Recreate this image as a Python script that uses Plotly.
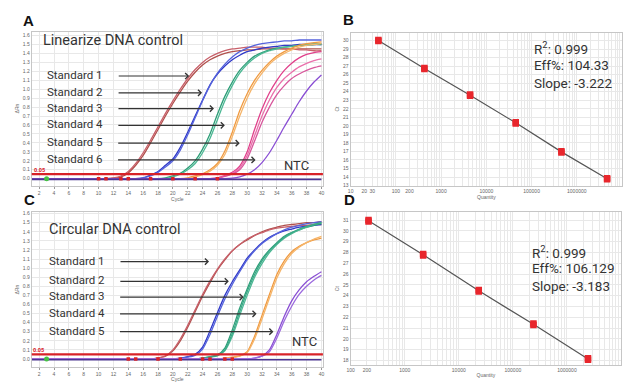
import plotly.graph_objects as go

W, H = 626, 382

# ---------------- data ----------------
CYCLES = list(range(1, 41))
THRESHOLD = 0.05

# Panel A: linearized DNA control, amplification curves (ΔRn per cycle)
A_STD1_R1 = [0, 0, 0, 0, 0, 0, 0, 0, 0, 0,
             0, 0.005, 0.02, 0.065, 0.15, 0.26, 0.40, 0.55, 0.70, 0.84,
             0.97, 1.09, 1.19, 1.27, 1.33, 1.37, 1.40, 1.42, 1.43, 1.44,
             1.44, 1.45, 1.45, 1.45, 1.45, 1.45, 1.45, 1.45, 1.45, 1.45]
A_STD1_R2 = [0, 0, 0, 0, 0, 0, 0, 0, 0, 0,
             0, 0.008, 0.03, 0.08, 0.17, 0.29, 0.43, 0.58, 0.73, 0.87,
             1.00, 1.12, 1.22, 1.30, 1.36, 1.40, 1.43, 1.45, 1.46, 1.47,
             1.47, 1.47, 1.46, 1.46, 1.45, 1.45, 1.44, 1.44, 1.43, 1.43]
A_STD2_R1 = [0, 0, 0, 0, 0, 0, 0, 0, 0, 0,
             0, 0, 0, 0, 0, 0.01, 0.04, 0.08, 0.15, 0.22,
             0.35, 0.52, 0.70, 0.88, 1.05, 1.17, 1.26, 1.33, 1.38, 1.42,
             1.44, 1.46, 1.47, 1.48, 1.49, 1.49, 1.50, 1.50, 1.50, 1.50]
A_STD2_R2 = [0, 0, 0, 0, 0, 0, 0, 0, 0, 0,
             0, 0, 0, 0, 0, 0.008, 0.03, 0.07, 0.13, 0.20,
             0.32, 0.49, 0.68, 0.87, 1.04, 1.18, 1.28, 1.36, 1.42, 1.46,
             1.49, 1.51, 1.52, 1.53, 1.54, 1.54, 1.55, 1.55, 1.55, 1.55]
A_STD3_R1 = [0, 0, 0, 0, 0, 0, 0, 0, 0, 0,
             0, 0, 0, 0, 0, 0, 0, 0, 0.01, 0.03,
             0.06, 0.12, 0.20, 0.33, 0.50, 0.72, 0.92, 1.08, 1.21, 1.30,
             1.37, 1.41, 1.44, 1.46, 1.47, 1.48, 1.49, 1.49, 1.50, 1.50]
A_STD3_R2 = [0, 0, 0, 0, 0, 0, 0, 0, 0, 0,
             0, 0, 0, 0, 0, 0, 0, 0, 0, 0.02,
             0.05, 0.10, 0.17, 0.29, 0.45, 0.66, 0.87, 1.04, 1.18, 1.28,
             1.35, 1.40, 1.43, 1.45, 1.47, 1.48, 1.49, 1.50, 1.51, 1.51]
A_STD4_R1 = [0, 0, 0, 0, 0, 0, 0, 0, 0, 0,
             0, 0, 0, 0, 0, 0, 0, 0, 0, 0,
             0, 0.01, 0.03, 0.055, 0.10, 0.17, 0.31, 0.52, 0.76, 0.95,
             1.10, 1.21, 1.30, 1.37, 1.42, 1.46, 1.49, 1.51, 1.52, 1.53]
A_STD4_R2 = [0, 0, 0, 0, 0, 0, 0, 0, 0, 0,
             0, 0, 0, 0, 0, 0, 0, 0, 0, 0,
             0, 0, 0.02, 0.045, 0.085, 0.15, 0.27, 0.47, 0.70, 0.90,
             1.06, 1.18, 1.28, 1.35, 1.40, 1.44, 1.47, 1.49, 1.50, 1.51]
A_STD5_R1 = [0, 0, 0, 0, 0, 0, 0, 0, 0, 0,
             0, 0, 0, 0, 0, 0, 0, 0, 0, 0,
             0, 0, 0, 0, 0, 0.01, 0.035, 0.07, 0.14, 0.30,
             0.55, 0.78, 0.96, 1.10, 1.21, 1.29, 1.35, 1.39, 1.41, 1.42]
A_STD5_R2 = [0, 0, 0, 0, 0, 0, 0, 0, 0, 0,
             0, 0, 0, 0, 0, 0, 0, 0, 0, 0,
             0, 0, 0, 0, 0, 0.008, 0.03, 0.06, 0.12, 0.26,
             0.48, 0.70, 0.88, 1.02, 1.12, 1.19, 1.25, 1.29, 1.32, 1.34]
A_STD5_R3 = [0, 0, 0, 0, 0, 0, 0, 0, 0, 0,
             0, 0, 0, 0, 0, 0, 0, 0, 0, 0,
             0, 0, 0, 0, 0, 0.005, 0.025, 0.05, 0.10, 0.22,
             0.42, 0.63, 0.80, 0.94, 1.04, 1.12, 1.17, 1.21, 1.24, 1.26]
A_STD6_R1 = [0, 0, 0, 0, 0, 0, 0, 0, 0, 0,
             0, 0, 0, 0, 0, 0, 0, 0, 0, 0,
             0, 0, 0, 0, 0, 0, 0, 0.005, 0.02, 0.05,
             0.10, 0.18, 0.29, 0.43, 0.58, 0.72, 0.86, 0.98, 1.08, 1.16]
A_NTC = [-0.008] * 40
A_BASE_START = [3]
A_BASE_END = [10, 11, 13, 14, 17, 20, 23, 26]

# Panel C: circular DNA control
C_STD1_R1 = [0, 0, 0, 0, 0, 0, 0, 0, 0, 0,
             0, 0, 0, 0, 0, 0, 0, 0.01, 0.03, 0.09,
             0.20, 0.35, 0.52, 0.69, 0.84, 0.98, 1.09, 1.19, 1.26, 1.31,
             1.36, 1.40, 1.43, 1.45, 1.47, 1.48, 1.49, 1.50, 1.50, 1.51]
C_STD1_R2 = [0, 0, 0, 0, 0, 0, 0, 0, 0, 0,
             0, 0, 0, 0, 0, 0, 0, 0.012, 0.035, 0.10,
             0.22, 0.37, 0.54, 0.71, 0.86, 0.99, 1.10, 1.19, 1.26, 1.32,
             1.36, 1.39, 1.42, 1.44, 1.45, 1.46, 1.47, 1.47, 1.48, 1.48]
C_STD2_R1 = [0, 0, 0, 0, 0, 0, 0, 0, 0, 0,
             0, 0, 0, 0, 0, 0, 0, 0, 0, 0,
             0.01, 0.025, 0.05, 0.13, 0.31, 0.51, 0.70, 0.85, 0.98, 1.11,
             1.20, 1.28, 1.34, 1.38, 1.41, 1.43, 1.45, 1.46, 1.47, 1.48]
C_STD2_R2 = [0, 0, 0, 0, 0, 0, 0, 0, 0, 0,
             0, 0, 0, 0, 0, 0, 0, 0, 0, 0,
             0.005, 0.02, 0.04, 0.11, 0.27, 0.47, 0.66, 0.82, 0.96, 1.09,
             1.19, 1.27, 1.33, 1.38, 1.42, 1.45, 1.47, 1.49, 1.50, 1.51]
C_STD3_R1 = [0, 0, 0, 0, 0, 0, 0, 0, 0, 0,
             0, 0, 0, 0, 0, 0, 0, 0, 0, 0,
             0, 0, 0, 0.01, 0.025, 0.045, 0.12, 0.32, 0.56, 0.77,
             0.96, 1.10, 1.20, 1.28, 1.35, 1.39, 1.42, 1.45, 1.47, 1.49]
C_STD3_R2 = [0, 0, 0, 0, 0, 0, 0, 0, 0, 0,
             0, 0, 0, 0, 0, 0, 0, 0, 0, 0,
             0, 0, 0, 0.005, 0.02, 0.035, 0.09, 0.25, 0.48, 0.70,
             0.90, 1.05, 1.17, 1.26, 1.33, 1.38, 1.42, 1.45, 1.48, 1.50]
C_STD3_R3 = [0, 0, 0, 0, 0, 0, 0, 0, 0, 0,
             0, 0, 0, 0, 0, 0, 0, 0, 0, 0,
             0, 0, 0, 0.008, 0.022, 0.04, 0.10, 0.28, 0.52, 0.74,
             0.93, 1.08, 1.19, 1.27, 1.34, 1.39, 1.43, 1.46, 1.48, 1.50]
C_STD4_R1 = [0, 0, 0, 0, 0, 0, 0, 0, 0, 0,
             0, 0, 0, 0, 0, 0, 0, 0, 0, 0,
             0, 0, 0, 0, 0, 0, 0.01, 0.02, 0.035, 0.08,
             0.25, 0.48, 0.71, 0.93, 1.08, 1.18, 1.24, 1.28, 1.31, 1.33]
C_STD4_R2 = [0, 0, 0, 0, 0, 0, 0, 0, 0, 0,
             0, 0, 0, 0, 0, 0, 0, 0, 0, 0,
             0, 0, 0, 0, 0, 0, 0.005, 0.015, 0.03, 0.07,
             0.22, 0.44, 0.67, 0.89, 1.05, 1.16, 1.23, 1.28, 1.32, 1.35]
C_STD5_R1 = [0, 0, 0, 0, 0, 0, 0, 0, 0, 0,
             0, 0, 0, 0, 0, 0, 0, 0, 0, 0,
             0, 0, 0, 0, 0, 0, 0, 0, 0, 0,
             0.01, 0.035, 0.10, 0.27, 0.47, 0.64, 0.76, 0.85, 0.91, 0.96]
C_STD5_R2 = [0, 0, 0, 0, 0, 0, 0, 0, 0, 0,
             0, 0, 0, 0, 0, 0, 0, 0, 0, 0,
             0, 0, 0, 0, 0, 0, 0, 0, 0, 0,
             0.008, 0.03, 0.08, 0.23, 0.42, 0.58, 0.71, 0.80, 0.87, 0.92]
C_NTC = [-0.008] * 40
C_BASE_START = [3]
C_BASE_END = [14, 15, 18, 21, 24, 25, 27, 28]

# Panel B: standard curve (linearized)
B_QTY = [41, 427, 4370, 44700, 457000, 4680000]
B_CT_R1 = [29.93, 26.65, 23.52, 20.28, 16.88, 13.73]
B_CT_R2 = [30.07, 26.79, 23.66, 20.42, 17.02, 13.87]
B_CT_MEAN = [30.00, 26.72, 23.59, 20.35, 16.95, 13.80]

# Panel D: standard curve (circular)
D_QTY = [214, 2190, 23400, 240000, 2450000]
D_CT_R1 = [30.86, 27.73, 24.38, 21.28, 18.08]
D_CT_R2 = [31.00, 27.87, 24.52, 21.42, 18.22]
D_CT_MEAN = [30.93, 27.80, 24.45, 21.35, 18.15]

A_STANDARDS = ["Standard 1", "Standard 2", "Standard 3", "Standard 4", "Standard 5", "Standard 6"]
C_STANDARDS = ["Standard 1", "Standard 2", "Standard 3", "Standard 4", "Standard 5"]

CYCLE_TICKS = [2, 4, 6, 8, 10, 12, 14, 16, 18, 20, 22, 24, 26, 28, 30, 32, 34, 36, 38, 40]
DRN_TICKS = [0.0, 0.1, 0.2, 0.3, 0.4, 0.5, 0.6, 0.7, 0.8, 0.9, 1.0, 1.1, 1.2, 1.3, 1.4, 1.5, 1.6]
B_QTY_LABELS = [10, 20, 30, 100, 200, 1000, 10000, 100000, 1000000, 10000000]
D_QTY_LABELS = [100, 200, 1000, 10000, 100000, 1000000, 10000000]
B_CT_TICKS = list(range(13, 31))
D_CT_TICKS = list(range(18, 32))

# ---------------- styling ----------------
BROWN, ROSE = "#b0504c", "#c8606a"
BLUE, BLUE2 = "#3039c8", "#5563dc"
GREEN, GREEN2, GREEN3 = "#2e9e78", "#4cb894", "#3aa987"
ORANGE, ORANGE2 = "#f09a40", "#f5b56a"
PINK, PINK2, PINK3 = "#e0418b", "#ea70ab", "#d8579c"
PURPLE, PURPLE2 = "#8a4fd4", "#9c6ade"
NTC_COL = "#4a3590"
RED = "#d82228"
TXT = "#333333"
GRID = "#e8e8e8"
FRAME = "#c6c6c6"
TICKFONT = dict(family="Liberation Sans", size=5, color="#666666")
TEXTFONT = "Roboto"

fig = go.Figure()


def add_curve(vals, color, xa, ya, width=1.3):
    fig.add_trace(go.Scatter(
        x=CYCLES, y=vals, mode="lines", xaxis=xa, yaxis=ya,
        line=dict(color=color, width=width, shape="spline", smoothing=0.6),
        showlegend=False, hoverinfo="skip"))


for vals, col in [(A_STD1_R1, BROWN), (A_STD1_R2, ROSE), (A_STD2_R1, BLUE), (A_STD2_R2, BLUE2),
                  (A_STD3_R1, GREEN), (A_STD3_R2, GREEN2), (A_STD4_R1, ORANGE), (A_STD4_R2, ORANGE2),
                  (A_STD5_R1, PINK), (A_STD5_R2, PINK2), (A_STD5_R3, PINK3), (A_STD6_R1, PURPLE)]:
    add_curve(vals, col, "x", "y")
add_curve(A_NTC, NTC_COL, "x", "y", 1.6)

for vals, col in [(C_STD1_R1, BROWN), (C_STD1_R2, ROSE), (C_STD2_R1, BLUE), (C_STD2_R2, BLUE2),
                  (C_STD3_R1, GREEN), (C_STD3_R2, GREEN2), (C_STD3_R3, GREEN3),
                  (C_STD4_R1, ORANGE), (C_STD4_R2, ORANGE2), (C_STD5_R1, PURPLE), (C_STD5_R2, PURPLE2)]:
    add_curve(vals, col, "x3", "y3")
add_curve(C_NTC, NTC_COL, "x3", "y3", 1.6)

# baseline markers
for xa, ya, ends, starts in [("x", "y", A_BASE_END, A_BASE_START), ("x3", "y3", C_BASE_END, C_BASE_START)]:
    fig.add_trace(go.Scatter(x=ends, y=[0] * len(ends), mode="markers", xaxis=xa, yaxis=ya,
                             marker=dict(symbol="square", size=3.5, color=RED),
                             showlegend=False, hoverinfo="skip"))
    fig.add_trace(go.Scatter(x=starts, y=[0] * len(starts), mode="markers", xaxis=xa, yaxis=ya,
                             marker=dict(symbol="circle", size=5, color="#46c046"),
                             showlegend=False, hoverinfo="skip"))

# threshold lines
for xa, ya in [("x", "y"), ("x3", "y3")]:
    fig.add_shape(type="line", xref=f"{xa} domain", x0=0, x1=1, yref=ya,
                  y0=THRESHOLD, y1=THRESHOLD, line=dict(color=RED, width=2.2))

# standard curves B and D
for xa, ya, q, m, r1, r2 in [("x2", "y2", B_QTY, B_CT_MEAN, B_CT_R1, B_CT_R2),
                             ("x4", "y4", D_QTY, D_CT_MEAN, D_CT_R1, D_CT_R2)]:
    fig.add_trace(go.Scatter(x=q, y=m, mode="lines", xaxis=xa, yaxis=ya,
                             line=dict(color="#555555", width=1.2), showlegend=False, hoverinfo="skip"))
    for r in (r1, r2):
        fig.add_trace(go.Scatter(x=q, y=r, mode="markers", xaxis=xa, yaxis=ya,
                                 marker=dict(symbol="square", size=6.5, color="#e8262c"),
                                 showlegend=False, hoverinfo="skip"))


def dom_x(a, b):
    return [a / W, b / W]


def dom_y(top, bottom):
    return [1 - bottom / H, 1 - top / H]


def cyc_axis(domain, anchor):
    return dict(domain=domain, anchor=anchor, range=[1, 40.2], tickmode="array",
                tickvals=CYCLE_TICKS, ticktext=[str(t) for t in CYCLE_TICKS],
                tickfont=TICKFONT, showgrid=True, gridcolor=GRID, gridwidth=1,
                showline=True, mirror=True, linecolor=FRAME, linewidth=1,
                ticks="outside", ticklen=2, tickcolor="#999999", zeroline=False,
                title=dict(text="Cycle", font=TICKFONT, standoff=1))


def drn_axis(domain, anchor, rng):
    return dict(domain=domain, anchor=anchor, range=rng, tickmode="array",
                tickvals=DRN_TICKS, ticktext=[f"{t:.1f}" for t in DRN_TICKS],
                tickfont=TICKFONT, showgrid=True, gridcolor=GRID,
                showline=True, mirror=True, linecolor=FRAME, linewidth=1,
                ticks="", zeroline=False,
                title=dict(text="ΔRn", font=TICKFONT, standoff=3))


def qty_axis(domain, anchor, rng, labels):
    lo, hi = int(rng[0]), int(rng[1])
    grid_vals = [m * 10 ** e for e in range(lo, hi) for m in range(1, 10)] + [10 ** hi]
    grid_text = [str(v) if v in labels else "" for v in grid_vals]
    return dict(domain=domain, anchor=anchor, type="log", range=rng, tickmode="array",
                tickvals=grid_vals, ticktext=grid_text, tickfont=TICKFONT,
                showgrid=True, gridcolor=GRID, showline=True, mirror=True,
                linecolor=FRAME, linewidth=1, ticks="", zeroline=False,
                title=dict(text="Quantity", font=TICKFONT, standoff=1))


def ct_axis(domain, anchor, rng, ticks):
    return dict(domain=domain, anchor=anchor, range=rng, tickmode="array",
                tickvals=ticks, ticktext=[str(t) for t in ticks], tickfont=TICKFONT,
                showgrid=True, gridcolor=GRID, showline=True, mirror=True,
                linecolor=FRAME, linewidth=1, ticks="", zeroline=False,
                title=dict(text="Ct", font=TICKFONT, standoff=3))


fig.update_layout(
    width=W, height=H, margin=dict(l=0, r=0, t=0, b=0),
    paper_bgcolor="white", plot_bgcolor="white", showlegend=False,
    xaxis=cyc_axis(dom_x(28, 322), "y"),
    yaxis=drn_axis(dom_y(30, 186), "x", [-0.077, 1.644]),
    xaxis2=qty_axis(dom_x(350, 624), "y2", [1, 7], B_QTY_LABELS),
    yaxis2=ct_axis(dom_y(31, 186), "x2", [13.0, 30.93], B_CT_TICKS),
    xaxis3=cyc_axis(dom_x(28, 322), "y3"),
    yaxis3=drn_axis(dom_y(213, 370), "x3", [-0.09, 1.615]),
    xaxis4=qty_axis(dom_x(350, 623), "y4", [2, 7], D_QTY_LABELS),
    yaxis4=ct_axis(dom_y(213, 368), "x4", [17.57, 31.73], D_CT_TICKS),
)

ann = []


def text(px, py, s, size, color=TXT, anchor="left", family=TEXTFONT):
    ann.append(dict(x=px / W, y=1 - py / H, xref="paper", yref="paper", text=s,
                    showarrow=False, xanchor=anchor, yanchor="middle",
                    font=dict(family=family, size=size, color=color)))


def arrow(x0, x1, py):
    ann.append(dict(x=x1 / W, y=1 - py / H, xref="paper", yref="paper", text="",
                    showarrow=True, ax=x0 - x1, ay=0, axref="pixel", ayref="pixel",
                    arrowhead=4, arrowsize=1, arrowwidth=1.2, arrowcolor="#333333", standoff=0))


# panel letters
for px, py, s in [(25, 19, "A"), (348, 18, "B"), (26, 200, "C"), (349, 200, "D")]:
    text(px, py, f"<b>{s}</b>", 15, "#111111", "center", "Liberation Sans")

# panel A
text(37, 39, "Linearize DNA control", 14.5)
A_LABEL_Y = [74, 91, 107, 124, 142, 159]
A_ARROW_END = [187, 200, 212, 223, 238, 254]
for lab, py, xe in zip(A_STANDARDS, A_LABEL_Y, A_ARROW_END):
    text(41, py, lab, 11.5)
    arrow(115, xe, py + 1)
text(295, 166, "NTC", 13, anchor="center")
text(28, 170, "<b>0.05</b>", 5.5, RED)

# panel C
text(43, 231, "Circular DNA control", 14.5)
C_LABEL_Y = [262, 282, 298, 315, 333]
C_ARROW_END = [207, 227, 242, 255, 272]
for lab, py, xe in zip(C_STANDARDS, C_LABEL_Y, C_ARROW_END):
    text(43, py, lab, 11.5)
    arrow(117, xe, py + 1)
text(303, 344, "NTC", 13, anchor="center")
text(27, 353, "<b>0.05</b>", 5.5, RED)

# panel B / D stats
for py, s in [(47, "R<sup>2</sup>: 0.999"), (64, "Eff%: 104.33"), (82, "Slope: -3.222")]:
    text(533, py, s, 13.5)
for py, s in [(253, "R<sup>2</sup>: 0.999"), (270, "Eff%: 106.129"), (288, "Slope: -3.183")]:
    text(531, py, s, 13.5)

fig.update_layout(annotations=ann)
fig.write_html("out.html", config={"displayModeBar": False},
               post_script="document.body.style.margin='0';document.body.style.padding='0';")
